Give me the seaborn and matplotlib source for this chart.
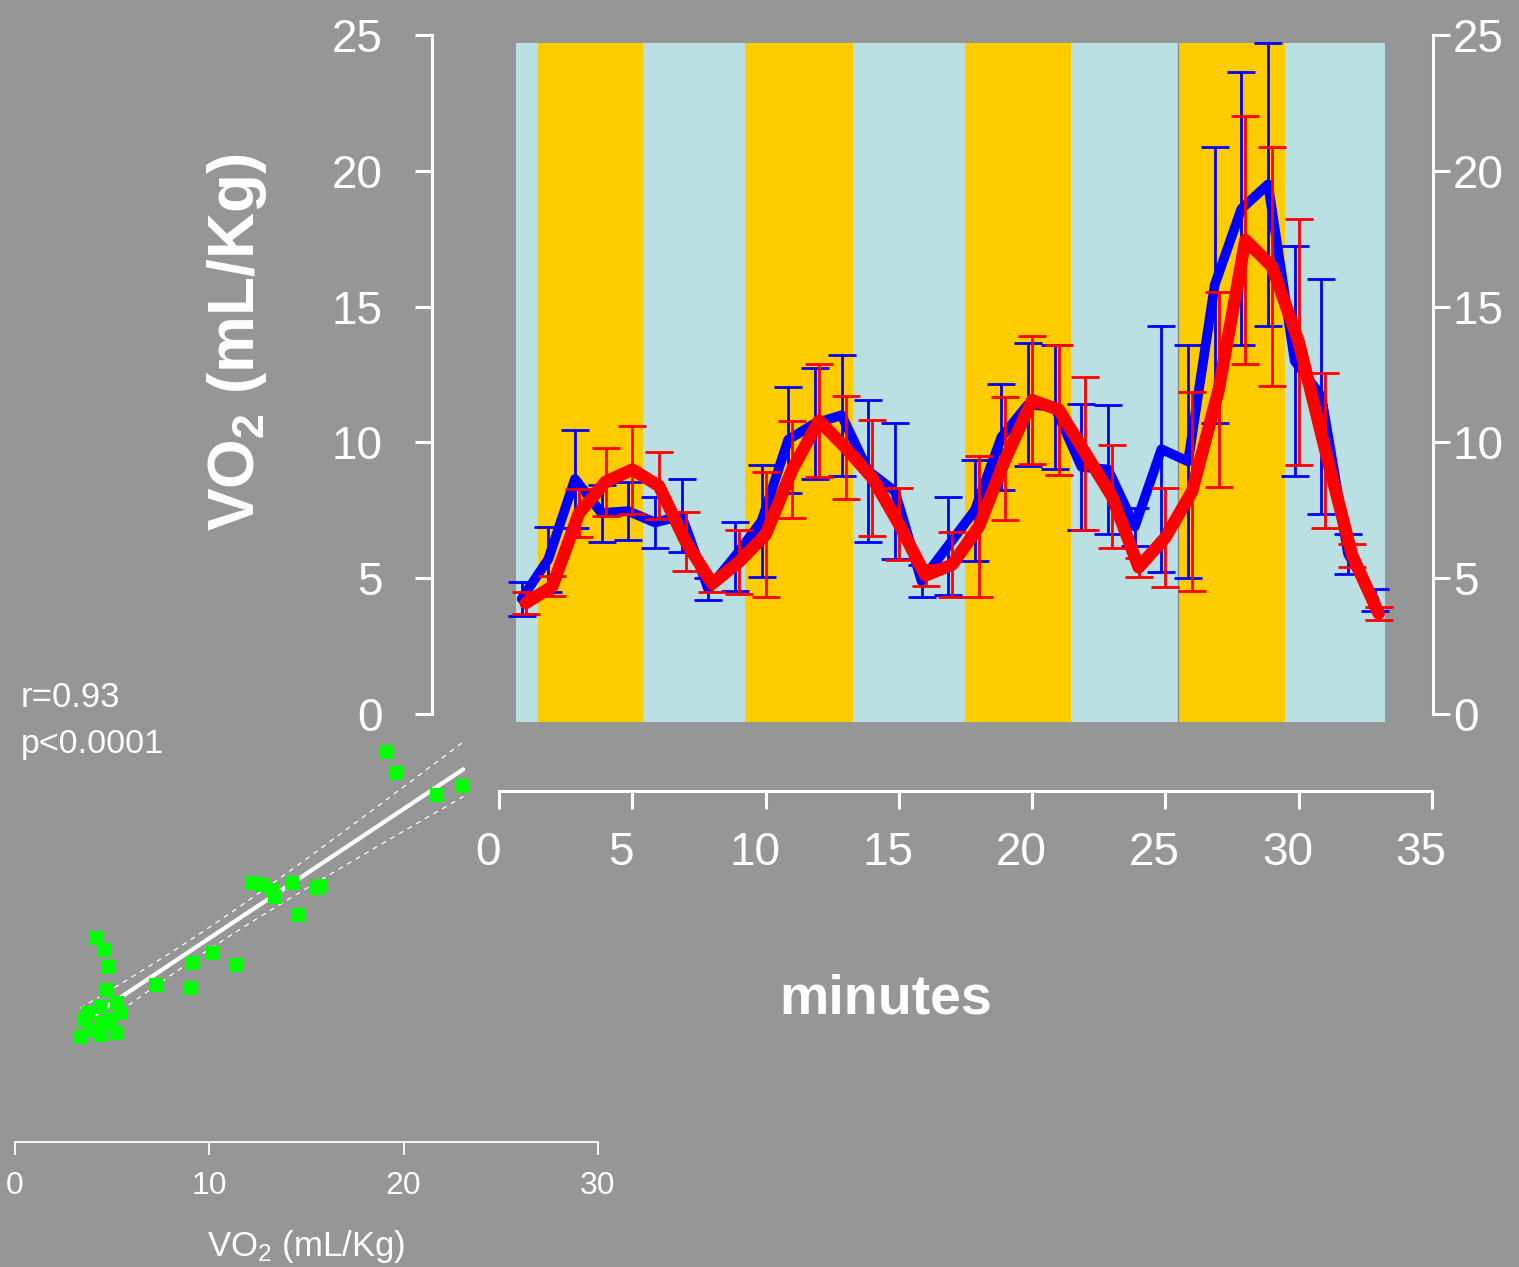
import numpy as np
import matplotlib
matplotlib.use("Agg")
import matplotlib.pyplot as plt
from matplotlib.transforms import ScaledTranslation
import seaborn as sns

W, H = 1519, 1267
bg = "#969696"
fg = "white"

# minute-by-minute VO2 (mean and half error bar)
minutes = np.arange(1, 34)
blue_mean = [4.24, 5.7, 8.65, 7.4, 7.47, 7.05, 7.3, 4.6, 5.8, 7.1, 10.1, 10.7, 11.0, 8.95, 8.2, 4.9, 6.2,
             7.5, 10.2, 11.4, 11.3, 9.1, 9.0, 6.9, 9.75, 9.3, 15.8, 18.6, 19.5, 13.0, 11.7, 5.9, 4.2]
blue_err = [0.62, 1.2, 1.8, 1.05, 1.08, 0.95, 1.35, 0.4, 1.26, 2.05, 1.95, 2.04, 2.23, 2.6, 2.5, 0.6, 1.8,
            1.85, 1.95, 2.27, 2.27, 2.33, 2.37, 0.7, 4.52, 4.28, 5.09, 5.02, 5.21, 4.24, 4.33, 0.74, 0.4]
red_mean = [4.08, 4.7, 7.4, 8.55, 9.0, 8.4, 6.35, 4.8, 5.6, 6.6, 9.0, 10.8, 9.8, 8.7, 7.0, 5.1, 5.5,
            6.9, 9.4, 11.55, 11.2, 9.6, 8.0, 5.4, 6.5, 8.2, 11.95, 17.45, 16.47, 13.7, 9.7, 5.85, 3.7]
red_err = [0.4, 0.37, 0.9, 1.25, 1.62, 1.23, 1.1, 0.3, 1.17, 2.3, 1.77, 2.08, 1.9, 2.14, 1.33, 0.4, 1.2,
           2.6, 2.26, 2.35, 2.4, 2.81, 1.9, 0.35, 1.82, 3.67, 3.59, 4.55, 4.39, 4.53, 2.85, 0.42, 0.24]
blue_shift = -0.15

# background phases
band_start = [0.64, 1.47, 5.39, 9.23, 13.27, 17.49, 21.44, 25.48, 29.48]
band_end = [1.47, 5.39, 9.23, 13.27, 17.49, 21.44, 25.48, 29.48, 33.23]
band_color = ["#BBE0E3", "#FFCC00"] * 4 + ["#BBE0E3"]
band_low, band_high = -0.3, 24.7
phase_line = 25.48

# correlation inset
sx = [19.13, 19.68, 21.73, 23.07, 12.21, 12.70, 13.21, 13.38, 14.24, 15.70, 15.53, 14.63, 4.20, 4.58, 4.80, 7.26,
      9.15, 10.20, 11.37, 9.04, 4.68, 3.35, 3.60, 3.77, 4.37, 4.54, 5.23, 5.40, 5.23, 4.37, 4.89, 3.86]
sy = [18.44, 17.33, 16.21, 16.68, 11.67, 11.58, 11.32, 10.98, 11.70, 11.53, 11.41, 10.04, 8.84, 8.23, 7.38, 6.43,
      7.55, 8.06, 7.46, 6.26, 6.18, 3.77, 4.63, 4.99, 5.32, 4.48, 5.51, 4.99, 3.96, 3.86, 4.63, 4.12]

sns.set_style("ticks")
plt.rcParams["font.family"] = ["Liberation Sans", "DejaVu Sans"]
plt.rcParams["mathtext.default"] = "regular"

fig = plt.figure(figsize=(W / 100, H / 100), dpi=100, facecolor=bg)


def box(x0, y0, x1, y1):
    # pixel box (top-left origin) -> figure fraction rect
    return [x0 / W, 1 - y1 / H, (x1 - x0) / W, (y1 - y0) / H]


# ---------------- main panel ----------------
ax = fig.add_axes(box(499, 35, 1432, 722.7))
ax.set_facecolor("none")
ax.bar(band_start, band_high - band_low, width=np.subtract(band_end, band_start), bottom=band_low,
       align="edge", color=band_color, linewidth=0, zorder=1)
ax.plot([phase_line, phase_line], [band_low, band_high], color="#8a8a8a", lw=1, zorder=1.5)

bx = minutes + blue_shift
ax.errorbar(bx, blue_mean, yerr=blue_err, fmt="none", ecolor="blue", elinewidth=2, capsize=10, capthick=2, zorder=2)
sns.lineplot(x=bx, y=blue_mean, ax=ax, color="blue", linewidth=7, zorder=3,
             solid_joinstyle="round", solid_capstyle="round")
ax.errorbar(minutes, red_mean, yerr=red_err, fmt="none", ecolor="red", elinewidth=2, capsize=10, capthick=2, zorder=4)
sns.lineplot(x=minutes, y=red_mean, ax=ax, color="red", linewidth=9, zorder=5,
             solid_joinstyle="round", solid_capstyle="round")

ax.set_xlim(0, 35)
ax.set_ylim(-0.32, 25)
ax.set_xticks(range(0, 36, 5))
ax.set_yticks(range(0, 26, 5))
ax.spines["top"].set_visible(False)
ax.spines["right"].set_visible(False)
ax.spines["left"].set_position(("outward", 48))
ax.spines["bottom"].set_position(("outward", 49))
ax.spines["left"].set_bounds(0, 25)
ax.spines["bottom"].set_bounds(0, 35)
for s in ["left", "bottom"]:
    ax.spines[s].set_color(fg)
    ax.spines[s].set_linewidth(2.2)
ax.tick_params(axis="y", colors=fg, labelsize=33, length=12, width=2.2, pad=24)
ax.tick_params(axis="x", colors=fg, labelsize=33, length=13, width=2.2, pad=16)
ax.set_xlabel("")
ax.set_ylabel("")
# x labels sit a little left of their ticks in the original
for lab in ax.get_xticklabels():
    lab.set_transform(lab.get_transform() + ScaledTranslation(-0.11, 0, fig.dpi_scale_trans))

ax2 = ax.twinx()
ax2.set_ylim(ax.get_ylim())
ax2.set_yticks(range(0, 26, 5))
for s in ["top", "left", "bottom"]:
    ax2.spines[s].set_visible(False)
ax2.spines["right"].set_position(("outward", 1))
ax2.spines["right"].set_bounds(0, 25)
ax2.spines["right"].set_color(fg)
ax2.spines["right"].set_linewidth(2.2)
ax2.tick_params(axis="y", colors=fg, labelsize=33, length=12, width=2.2, pad=2)

fig.text(886 / W, 1 - 1013 / H, "minutes", color=fg, fontsize=40, fontweight="bold",
         ha="center", va="baseline")
fig.text(237 / W, 1 - 342 / H, r"VO$_2$ (mL/Kg)", color=fg, fontsize=46, fontweight="bold",
         rotation=90, ha="center", va="center")

# ---------------- correlation inset ----------------
sa = fig.add_axes(box(15, 730, 598, 1142))
sa.set_facecolor("none")
sx_a = np.array(sx)
sy_a = np.array(sy)
sns.regplot(x=sx_a, y=sy_a, ax=sa, scatter=False, ci=None, color="white", line_kws={"lw": 3, "zorder": 2})

# 95% confidence limits of the fitted line
slope, icpt = np.polyfit(sx_a, sy_a, 1)
n = len(sx_a)
resid = sy_a - (slope * sx_a + icpt)
s_err = np.sqrt(np.sum(resid ** 2) / (n - 2))
xg = np.linspace(sx_a.min(), sx_a.max(), 60)
se = s_err * np.sqrt(1 / n + (xg - sx_a.mean()) ** 2 / np.sum((sx_a - sx_a.mean()) ** 2))
yg = slope * xg + icpt
sa.plot(xg, yg + 2.04 * se, color="white", lw=0.9, ls=(0, (4, 4)), zorder=2)
sa.plot(xg, yg - 2.04 * se, color="white", lw=0.9, ls=(0, (4, 4)), zorder=2)

sns.scatterplot(x=sx_a, y=sy_a, ax=sa, marker="s", color="#00FF00", s=88, linewidth=0, zorder=3)

sa.set_xlim(0, 30)
sa.set_ylim(-1.65, 19.56)
sa.set_xticks([0, 10, 20, 30])
sa.set_yticks([])
for s in ["top", "right", "left"]:
    sa.spines[s].set_visible(False)
sa.spines["bottom"].set_color(fg)
sa.spines["bottom"].set_linewidth(1.3)
sa.spines["bottom"].set_bounds(0, 30)
sa.tick_params(axis="x", colors=fg, labelsize=23, length=9, width=1.3, pad=12)
sa.set_xlabel("")
sa.set_ylabel("")

fig.text(306 / W, 1 - 1256 / H, r"VO$_2$ (mL/Kg)", color=fg, fontsize=25, ha="center", va="baseline")
fig.text(21 / W, 1 - 697 / H, "r=0.93", color=fg, fontsize=25, ha="left", va="center")
fig.text(21 / W, 1 - 745 / H, "p<0.0001", color=fg, fontsize=24.5, ha="left", va="center")

fig.savefig("out.png", dpi=100, facecolor=bg)
